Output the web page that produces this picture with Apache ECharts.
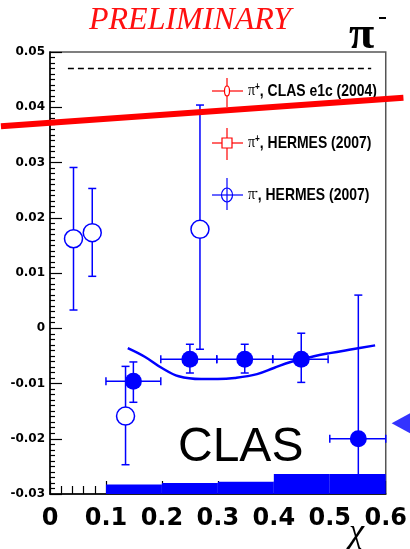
<!DOCTYPE html>
<html><head><meta charset="utf-8">
<script src="https://cdn.jsdelivr.net/npm/echarts@6/dist/echarts.min.js"></script>
<style>html,body{margin:0;padding:0;background:#fff}#c{width:410px;height:549px}</style>
</head><body><div id="c"></div>
<script>
// CLAS pi- points (filled)
const clasX   = [0.149, 0.250, 0.348, 0.449, 0.551];
const clasY   = [-0.0096, -0.0056, -0.0056, -0.0056, -0.0200];
const clasXlo = [0.100, 0.198, 0.298, 0.398, 0.500];
const clasXhi = [0.198, 0.298, 0.398, 0.497, 0.600];
const clasYlo = [-0.0134, -0.0081, -0.0081, -0.0098, -0.0300];
const clasYhi = [-0.0061, -0.0029, -0.0029, -0.0009, 0.0060];
// HERMES pi- points (open)
const hermX   = [0.042, 0.0755, 0.135, 0.268];
const hermY   = [0.0162, 0.0173, -0.0159, 0.0179];
const hermYlo = [0.0033, 0.0094, -0.0247, -0.0038];
const hermYhi = [0.0291, 0.0253, -0.0069, 0.0404];
// model curve
const curveX = [0.139, 0.17, 0.20, 0.23, 0.27, 0.30, 0.33, 0.37, 0.40, 0.43, 0.47, 0.50, 0.54, 0.581];
const curveY = [-0.0036, -0.0052, -0.0072, -0.0087, -0.0092, -0.0092, -0.0090, -0.0083, -0.0072, -0.0061, -0.0051, -0.0045, -0.0038, -0.0031];
// systematic band
const bandLo  = [0.1, 0.2, 0.3, 0.4, 0.5];
const bandHi  = [0.2, 0.3, 0.4, 0.5, 0.6];
const bandTop = [-0.0283, -0.0280, -0.0278, -0.0264, -0.0264];
// overlay lines
const redX = [-0.0877, 0.6316];
const redY = [0.03655, 0.0417];
const dashX = [0.032, 0.574];
const dashY = [0.047, 0.047];
const arrowX = [0.632];
const arrowY = [-0.0172];
// axes
const xTicks = [0, 0.1, 0.2, 0.3, 0.4, 0.5, 0.6];
const yTicks = [-0.03, -0.02, -0.01, 0, 0.01, 0.02, 0.03, 0.04, 0.05];

const BLUE = '#0000ff';
const chart = echarts.init(document.getElementById('c'), null, {renderer: 'canvas'});

function errItem(params, api) {
  const x = api.value(0), y = api.value(1);
  const xlo = api.value(2), xhi = api.value(3), ylo = api.value(4), yhi = api.value(5);
  const c = api.coord([x, y]);
  const top = api.coord([x, yhi]), bot = api.coord([x, ylo]);
  const children = [];
  const st = {stroke: BLUE, lineWidth: 1.5};
  children.push({type: 'line', shape: {x1: c[0], y1: top[1], x2: c[0], y2: bot[1]}, style: st});
  children.push({type: 'line', shape: {x1: c[0]-4, y1: top[1], x2: c[0]+4, y2: top[1]}, style: st});
  if (ylo > -0.0299) children.push({type: 'line', shape: {x1: c[0]-4, y1: bot[1], x2: c[0]+4, y2: bot[1]}, style: st});
  if (!isNaN(xlo)) {
    const l = api.coord([xlo, y]), r = api.coord([xhi, y]);
    children.push({type: 'line', shape: {x1: l[0], y1: c[1], x2: r[0], y2: c[1]}, style: st});
    children.push({type: 'line', shape: {x1: l[0], y1: c[1]-4, x2: l[0], y2: c[1]+4}, style: st});
    children.push({type: 'line', shape: {x1: r[0], y1: c[1]-4, x2: r[0], y2: c[1]+4}, style: st});
  }
  return {type: 'group', children};
}

const clasErr = clasX.map((x, i) => [x, clasY[i], clasXlo[i], clasXhi[i], clasYlo[i], clasYhi[i]]);
const hermErr = hermX.map((x, i) => [x, hermY[i], NaN, NaN, hermYlo[i], hermYhi[i]]);

const legRich = {
  p: {font: '17px "Liberation Serif"', fill: '#000'},
  s: {font: 'bold 10px "Liberation Sans"', fill: '#000', padding: [0, 0, 8, 0]},
  t: {font: 'bold 17px "Liberation Sans"', fill: '#000'}
};

const option = {
  animation: false,
  grid: {left: 50, right: 18, top: 52, bottom: 55, show: true, borderColor: '#555', borderWidth: 1.5},
  xAxis: {
    type: 'value', min: 0, max: 0.6, interval: 0.1,
    axisLine: {show: true, onZero: false, lineStyle: {color: '#000', width: 1.5}},
    axisTick: {show: true, inside: true, length: 13, lineStyle: {color: '#000', width: 1.2}},
    minorTick: {show: true, splitNumber: 5, length: 8, lineStyle: {color: '#000', width: 1.2}},
    splitLine: {show: false},
    axisLabel: {margin: 13, color: '#000', fontFamily: 'DejaVu Sans', fontWeight: 'bold', fontSize: 24,
      formatter: v => { const s = xTicks.find(t => Math.abs(t - v) < 1e-9); return s === undefined ? '' : String(s); }}
  },
  yAxis: {
    type: 'value', min: -0.03, max: 0.05, interval: 0.01,
    axisLine: {show: true, onZero: false, lineStyle: {color: '#000', width: 1.5}},
    axisTick: {show: true, inside: true, length: 12, lineStyle: {color: '#000', width: 1.2}},
    minorTick: {show: true, splitNumber: 10, length: 5, lineStyle: {color: '#000', width: 1.2}},
    splitLine: {show: false},
    axisLabel: {margin: 5, color: '#000', fontFamily: 'DejaVu Sans', fontWeight: 'bold', fontSize: 12,
      formatter: v => { const s = yTicks.find(t => Math.abs(t - v) < 1e-9); return s === undefined ? '' : String(s); }}
  },
  series: [
    {type: 'custom', name: 'band', z: 1, clip: false,
     data: bandLo.map((x, i) => [x, bandHi[i], bandTop[i]]),
     renderItem: (p, api) => {
       const a = api.coord([api.value(0), api.value(2)]);
       const b = api.coord([api.value(1), -0.03]);
       return {type: 'rect', shape: {x: a[0], y: a[1], width: b[0]-a[0], height: b[1]-a[1]}, style: {fill: BLUE}};
     }},
    {type: 'line', name: 'dash', data: dashX.map((x, i) => [x, dashY[i]]), symbol: 'none',
     lineStyle: {color: '#000', width: 1.5, type: [6, 4]}, z: 2},
    {type: 'line', name: 'model', data: curveX.map((x, i) => [x, curveY[i]]), symbol: 'none', smooth: 0.4,
     lineStyle: {color: BLUE, width: 2.5}, z: 3},
    {type: 'custom', name: 'errC', data: clasErr, renderItem: errItem, clip: false, z: 4},
    {type: 'custom', name: 'errH', data: hermErr, renderItem: errItem, clip: false, z: 4},
    {type: 'scatter', name: 'CLAS', data: clasX.map((x, i) => [x, clasY[i]]), symbol: 'circle', symbolSize: 17,
     itemStyle: {color: BLUE, opacity: 1}, z: 5},
    {type: 'scatter', name: 'HERMES', data: hermX.map((x, i) => [x, hermY[i]]), symbol: 'circle', symbolSize: 18,
     itemStyle: {color: '#fff', borderColor: BLUE, borderWidth: 1.5, opacity: 1}, z: 5},
    {type: 'custom', name: 'red', clip: false, z: 10,
     data: [[redX[0], redY[0], redX[1], redY[1]]],
     renderItem: (p, api) => {
       const a = api.coord([api.value(0), api.value(1)]);
       const b = api.coord([api.value(2), api.value(3)]);
       return {type: 'line', shape: {x1: a[0], y1: a[1], x2: b[0], y2: b[1]}, style: {stroke: '#ff0000', lineWidth: 6}};
     }},
    {type: 'scatter', name: 'arrow', data: arrowX.map((x, i) => [x, arrowY[i]]), symbol: 'triangle', symbolSize: [26, 24],
     symbolRotate: 90, clip: false, itemStyle: {color: BLUE}, z: 10}
  ],
  graphic: [
    {type: 'text', left: 89, top: 5, style: {text: 'PRELIMINARY', fill: '#ff1010', font: 'italic 32px "Liberation Serif"'}},
    {type: 'text', x: 349, y: 13, style: {text: 'π', fill: '#000', font: 'bold 46px "Liberation Serif"'}},
    {type: 'line', shape: {x1: 379, y1: 18, x2: 386, y2: 18}, style: {stroke: '#000', lineWidth: 2}},
    {type: 'text', x: 178, y: 424, style: {text: 'CLAS', fill: '#000', font: '48px "Liberation Sans"'}},
    {type: 'text', x: 349, y: 516, style: {text: 'χ', fill: '#000', font: 'italic 34px "Liberation Serif"'}},
    // legend entry 1
    {type: 'line', shape: {x1: 212, y1: 91, x2: 243, y2: 91}, style: {stroke: '#ff0000', lineWidth: 1.2}},
    {type: 'line', shape: {x1: 227, y1: 78, x2: 227, y2: 107}, style: {stroke: '#ff0000', lineWidth: 1.2}},
    {type: 'ellipse', shape: {cx: 227, cy: 91, rx: 2.5, ry: 5}, style: {stroke: '#ff0000', fill: '#fff', lineWidth: 1.2}},
    {type: 'text', x: 248, y: 82, scaleX: 0.82, style: {rich: legRich, text: '{p|π}{s|+}{t|, CLAS e1c (2004)}'}},
    // legend entry 2
    {type: 'line', shape: {x1: 212, y1: 143, x2: 243, y2: 143}, style: {stroke: '#ff0000', lineWidth: 1.2}},
    {type: 'line', shape: {x1: 227, y1: 128, x2: 227, y2: 160}, style: {stroke: '#ff0000', lineWidth: 1.2}},
    {type: 'rect', shape: {x: 222, y: 138, width: 10, height: 10}, style: {stroke: '#ff0000', fill: '#fff', lineWidth: 1.2}},
    {type: 'text', x: 248, y: 134, scaleX: 0.82, style: {rich: legRich, text: '{p|π}{s|+}{t|, HERMES (2007)}'}},
    // legend entry 3
    {type: 'line', shape: {x1: 212, y1: 195, x2: 243, y2: 195}, style: {stroke: BLUE, lineWidth: 1.2}},
    {type: 'line', shape: {x1: 227, y1: 178, x2: 227, y2: 210}, style: {stroke: BLUE, lineWidth: 1.2}},
    {type: 'ellipse', shape: {cx: 227, cy: 195, rx: 5.5, ry: 7}, style: {stroke: BLUE, fill: 'transparent', lineWidth: 1.2}},
    {type: 'text', x: 248, y: 186, scaleX: 0.82, style: {rich: legRich, text: '{p|π}{s|-}{t|, HERMES (2007)}'}}
  ]
};
chart.setOption(option);
</script></body></html>
